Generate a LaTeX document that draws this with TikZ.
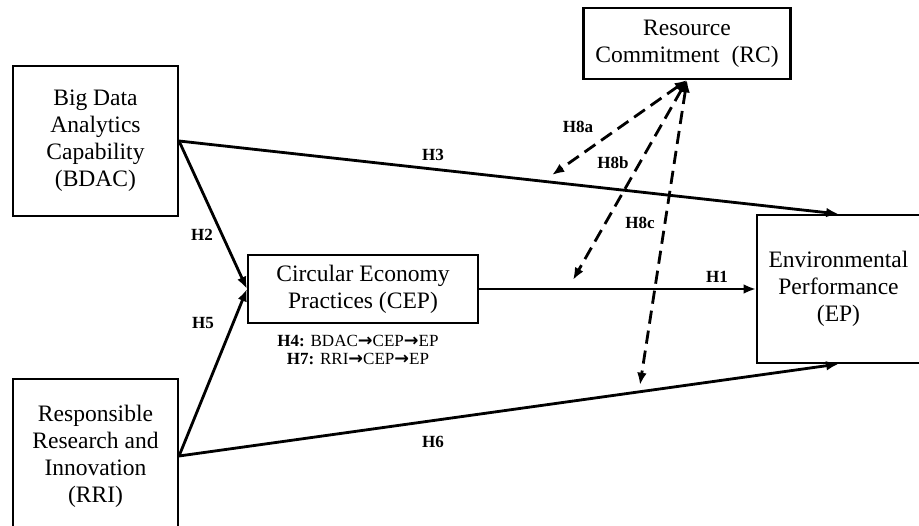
\documentclass[tikz,border=0pt]{standalone}
\usepackage{fontspec}
\setmainfont{Liberation Serif}
\newfontfamily\arrowfont{DejaVu Sans}
\newcommand{\toarrow}{{\arrowfont\bfseries\fontsize{10}{10}\selectfont →}}
\usetikzlibrary{arrows.meta}

\begin{document}
\begin{tikzpicture}[x=0.02cm,y=-0.02cm,
		box/.style={draw,line width=1.2pt,align=center,inner sep=0pt,font=\fontsize{13.4}{15.4}\selectfont},
		link/.style={line width=1.6pt,-{Latex[length=7pt,width=5.5pt]}},
		moder/.style={line width=1.6pt,dash pattern=on 7.5pt off 4pt,{Latex[length=7pt,width=5.5pt]}-{Latex[length=7pt,width=5.5pt]}},
		hyp/.style={font=\fontsize{9.7}{10}\selectfont\bfseries}]
		\useasboundingbox (0,0) rectangle (919,526);
		% constructs
		\node[box,minimum width=3.3cm,minimum height=3cm] (bdac) at (95.5,141) {Big Data\\Analytics\\Capability\\(BDAC)};
		\node[box,minimum width=3.3cm,minimum height=3.08cm] (rri) at (95.5,456) {Responsible\\Research and\\Innovation\\(RRI)};
		\node[box,minimum width=4.6cm,minimum height=1.36cm] (cep) at (363,289) {Circular Economy\\Practices (CEP)};
		\node[box,minimum width=3.26cm,minimum height=2.96cm] (ep) at (838.5,289) {Environmental\\Performance\\(EP)};
		\node[box,minimum width=4.14cm,minimum height=1.42cm] (rc) at (687,43.5) {Resource\\Commitment\ \ (RC)};
		\node[align=center,font=\fontsize{9.7}{10.5}\selectfont] (med) at (358,350) {\textbf{H4:} BDAC\toarrow CEP\toarrow EP\\\textbf{H7:} RRI\toarrow CEP\toarrow EP};
		% direct paths
		\draw[link] (bdac.east) -- (ep.north);
		\draw[link] (bdac.east) -- (cep.west);
		\draw[link] (rri.east) -- (cep.west);
		\draw[link] (rri.east) -- (ep.south);
		\draw[link] (cep.east) -- (cep.east -| ep.west);
		% moderation
		\coordinate (m1) at (552,175);
		\coordinate (m2) at (573,280);
		\coordinate (m3) at (640,385);
		\foreach \m in {m1,m2,m3}{
			\draw[moder] (rc.south) -- (\m);
		}
		% hypothesis labels
		\node[hyp] (h1) at (717,277) {H1};
		\node[hyp] (h2) at (202,235) {H2};
		\node[hyp] (h3) at (433,155) {H3};
		\node[hyp] (h5) at (203,323) {H5};
		\node[hyp] (h6) at (433,442) {H6};
		\node[hyp] (h8a) at (578,127) {H8a};
		\node[hyp] (h8b) at (613,163) {H8b};
		\node[hyp] (h8c) at (640,223) {H8c};
	\end{tikzpicture}
\end{document}
